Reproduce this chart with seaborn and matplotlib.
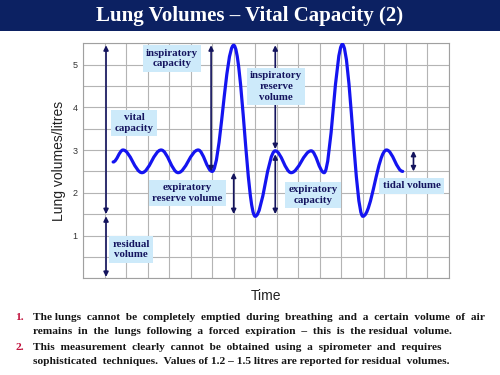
import matplotlib
matplotlib.use("Agg")
import matplotlib.pyplot as plt
from matplotlib.path import Path
from matplotlib.patches import PathPatch, Rectangle
from matplotlib.ticker import MultipleLocator, FixedLocator
import seaborn as sns

# ---------------------------------------------------------------------------
# Data (time in grid columns, volume in litres)
# ---------------------------------------------------------------------------
trace_time = [1.4, 1.86, 2.74, 3.63, 4.42, 5.35, 6.0, 7.0, 8.0,
              8.93, 9.67, 10.6, 11.2, 12.05, 13.0, 14.1, 14.85]
trace_volume = [2.72, 3.0, 2.47, 3.0, 2.47, 3.0, 2.5, 5.45, 1.45,
                2.98, 2.47, 2.98, 2.47, 5.47, 1.45, 3.0, 2.5]

# double arrows: (x, bottom, top)
arrow_x = [1.07, 1.07, 5.95, 7.0, 8.93, 8.93, 15.35]
arrow_lo = [1.5, 0.03, 2.5, 1.5, 3.02, 1.5, 2.5]
arrow_hi = [5.45, 1.45, 5.45, 2.47, 5.45, 2.9, 2.98]

label_text = ["inspiratory\ncapacity", "vital\ncapacity", "residual\nvolume",
              "expiratory\nreserve volume", "inspiratory\nreserve\nvolume",
              "expiratory\ncapacity", "tidal volume"]
label_x = [4.13, 2.37, 2.23, 4.84, 8.97, 10.7, 15.26]
label_y = [5.14, 3.63, 0.67, 2.0, 4.49, 1.95, 2.16]

y_ticks = [1, 2, 3, 4, 5]

title = "Lung Volumes \u2013 Vital Capacity (2)"
notes = [
    ("1.", ["The lungs  cannot  be  completely  emptied  during  breathing  and  a  certain  volume  of  air",
            "remains  in  the  lungs  following  a  forced  expiration  \u2013  this  is  the residual  volume."]),
    ("2.", ["This  measurement  clearly  cannot  be  obtained  using  a  spirometer  and  requires",
            "sophisticated  techniques.  Values of 1.2 \u2013 1.5 litres are reported for residual  volumes."]),
]

NAVY = "#14145e"
BLUE = "#1414f0"
BOX = "#cdeafa"
SERIF = ["Liberation Serif", "DejaVu Serif"]
SANS = ["Liberation Sans", "DejaVu Sans"]

sns.set_theme(style="whitegrid")
plt.rcParams["font.family"] = SANS

fig = plt.figure(figsize=(5, 3.75), dpi=100)
fig.patch.set_facecolor("white")

# ---- title bar ------------------------------------------------------------
fig.patches.append(Rectangle((0, 0.917), 1, 0.083, transform=fig.transFigure,
                             facecolor="#0c2162", edgecolor="none", zorder=0))
fig.text(0.5, 0.958, title, ha="center", va="center", color="white",
         fontsize=15, weight="bold", family=SERIF)

# ---- spirogram ------------------------------------------------------------
ax = fig.add_axes([0.166, 0.258, 0.732, 0.627])
ax.set_xlim(0, 17)
ax.set_ylim(0, 5.5)
ax.set_facecolor("white")

ax.xaxis.set_major_locator(MultipleLocator(1))
ax.yaxis.set_major_locator(FixedLocator(y_ticks))
ax.yaxis.set_minor_locator(MultipleLocator(0.5))
ax.set_xticklabels([])
ax.tick_params(axis="both", which="both", length=0)
ax.tick_params(axis="y", labelsize=6.5, labelcolor="#333333", pad=4)
ax.grid(True, which="both", color="#b4b4b4", lw=0.8)
for sp in ax.spines.values():
    sp.set_color("#a0a0a0")
    sp.set_linewidth(0.8)

# smooth trace through the read extrema (cubic Bezier, flat at each turn)
c = 0.3642
verts = [(trace_time[0], trace_volume[0])]
codes = [Path.MOVETO]
for (x0, y0), (x1, y1) in zip(zip(trace_time[:-1], trace_volume[:-1]),
                              zip(trace_time[1:], trace_volume[1:])):
    dx = x1 - x0
    verts += [(x0 + c * dx, y0), (x1 - c * dx, y1), (x1, y1)]
    codes += [Path.CURVE4] * 3
ax.add_patch(PathPatch(Path(verts, codes), facecolor="none",
                       edgecolor=BLUE, lw=2.3, zorder=3, capstyle="round"))

for x, lo, hi in zip(arrow_x, arrow_lo, arrow_hi):
    ax.annotate("", xy=(x, hi), xytext=(x, lo),
                arrowprops=dict(arrowstyle="<|-|>", color=NAVY, lw=1.2,
                                mutation_scale=7, shrinkA=0, shrinkB=0),
                zorder=4, annotation_clip=False)

for txt, x, y in zip(label_text, label_x, label_y):
    ax.text(x, y, txt, ha="center", va="center", fontsize=7.8, weight="bold",
            color=NAVY, family=SERIF, linespacing=1.25, zorder=5,
            bbox=dict(boxstyle="square,pad=0.3", facecolor=BOX,
                      edgecolor="none"))

ax.set_ylabel("Lung volumes/litres", fontsize=10, color="#222222", labelpad=5)
ax.set_xlabel("Time", fontsize=10, color="#222222", labelpad=4)

# ---- notes ----------------------------------------------------------------
line_y = [318, 331, 348, 361]
k = 0
for num, lines in notes:
    fig.text(15 / 500, 1 - line_y[k] / 375, num, color="#c0123c", fontsize=8.2,
             weight="bold", family=SERIF, va="center")
    for ln in lines:
        fig.text(33 / 500, 1 - line_y[k] / 375, ln, color="#151515",
                 fontsize=8.2, weight="bold", family=SERIF, va="center")
        k += 1

fig.savefig("out.png", dpi=100)
